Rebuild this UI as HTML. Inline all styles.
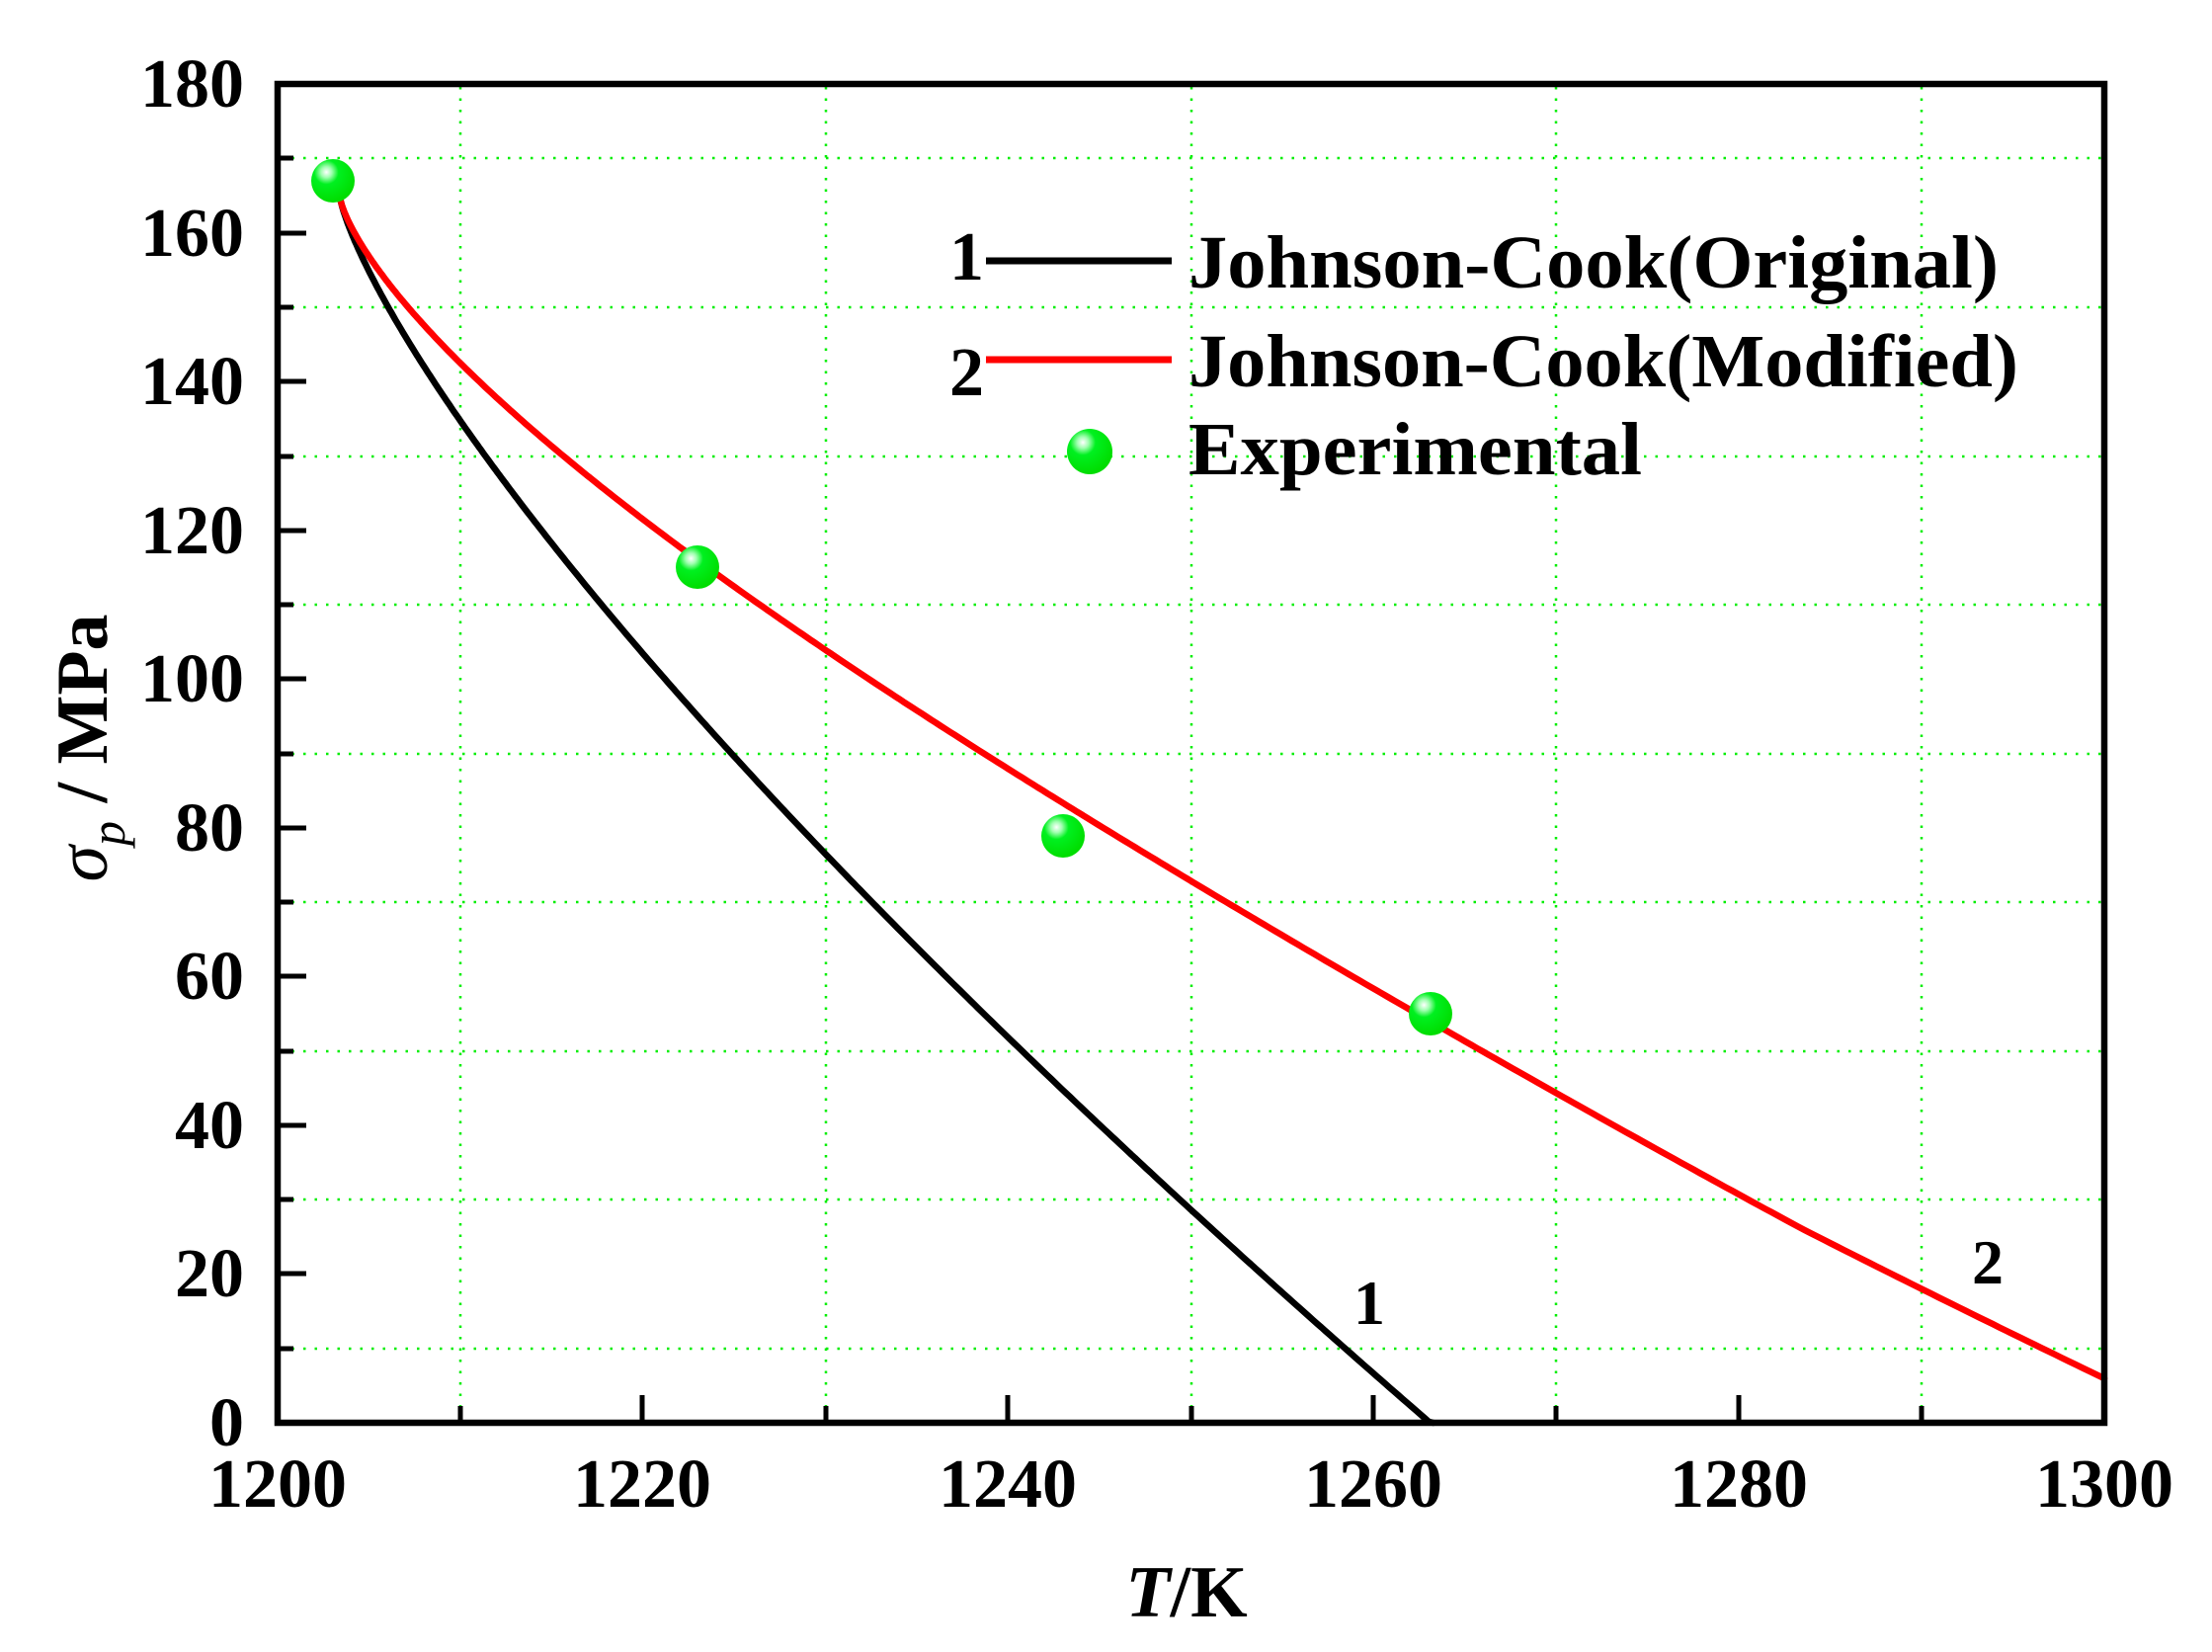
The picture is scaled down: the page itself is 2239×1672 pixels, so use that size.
<!DOCTYPE html>
<html><head><meta charset="utf-8"><style>
html,body{margin:0;padding:0;background:#fff}
svg{display:block}
text{font-family:"Liberation Serif",serif;font-weight:bold;fill:#000}
</style></head><body>
<svg width="2239" height="1672" viewBox="0 0 2239 1672" xmlns="http://www.w3.org/2000/svg">
<defs>
<radialGradient id="g" cx="0.35" cy="0.3" r="0.7">
<stop offset="0" stop-color="#ffffff"/>
<stop offset="0.18" stop-color="#a0ffb0"/>
<stop offset="0.4" stop-color="#00f020"/>
<stop offset="1" stop-color="#00dd00"/>
</radialGradient>
</defs>
<g stroke="#00ee00" stroke-width="2.5" stroke-dasharray="2.5,9" fill="none">
<line x1="466" y1="88" x2="466" y2="1437"/>
<line x1="836" y1="88" x2="836" y2="1437"/>
<line x1="1206" y1="88" x2="1206" y2="1437"/>
<line x1="1575" y1="88" x2="1575" y2="1437"/>
<line x1="1945" y1="88" x2="1945" y2="1437"/>
<line x1="284" y1="1365" x2="2127" y2="1365"/>
<line x1="284" y1="1214" x2="2127" y2="1214"/>
<line x1="284" y1="1064" x2="2127" y2="1064"/>
<line x1="284" y1="913" x2="2127" y2="913"/>
<line x1="284" y1="763" x2="2127" y2="763"/>
<line x1="284" y1="612" x2="2127" y2="612"/>
<line x1="284" y1="462" x2="2127" y2="462"/>
<line x1="284" y1="311" x2="2127" y2="311"/>
<line x1="284" y1="160" x2="2127" y2="160"/>
</g>
<g stroke="#000" stroke-width="5">
<line x1="650" y1="1440" x2="650" y2="1412"/>
<line x1="1020" y1="1440" x2="1020" y2="1412"/>
<line x1="1390" y1="1440" x2="1390" y2="1412"/>
<line x1="1760" y1="1440" x2="1760" y2="1412"/>
<line x1="466" y1="1440" x2="466" y2="1423"/>
<line x1="836" y1="1440" x2="836" y2="1423"/>
<line x1="1206" y1="1440" x2="1206" y2="1423"/>
<line x1="1575" y1="1440" x2="1575" y2="1423"/>
<line x1="1945" y1="1440" x2="1945" y2="1423"/>
<line x1="281" y1="1289" x2="310" y2="1289"/>
<line x1="281" y1="1139" x2="310" y2="1139"/>
<line x1="281" y1="988" x2="310" y2="988"/>
<line x1="281" y1="838" x2="310" y2="838"/>
<line x1="281" y1="687" x2="310" y2="687"/>
<line x1="281" y1="537" x2="310" y2="537"/>
<line x1="281" y1="386" x2="310" y2="386"/>
<line x1="281" y1="236" x2="310" y2="236"/>
<line x1="281" y1="1365" x2="297" y2="1365"/>
<line x1="281" y1="1214" x2="297" y2="1214"/>
<line x1="281" y1="1064" x2="297" y2="1064"/>
<line x1="281" y1="913" x2="297" y2="913"/>
<line x1="281" y1="763" x2="297" y2="763"/>
<line x1="281" y1="612" x2="297" y2="612"/>
<line x1="281" y1="462" x2="297" y2="462"/>
<line x1="281" y1="311" x2="297" y2="311"/>
<line x1="281" y1="160" x2="297" y2="160"/>
</g>
<g fill="none" stroke-linejoin="round" stroke-linecap="round">
<polyline id="c1" stroke="#000" stroke-width="6.5" points=""/>
<polyline id="c2" stroke="#f00" stroke-width="6.5" points=""/>
</g>
<rect x="281" y="85" width="1849" height="1355" fill="none" stroke="#000" stroke-width="6.5"/>
<g>
<circle cx="337" cy="183" r="22" fill="url(#g)"/>
<circle cx="706" cy="574" r="22" fill="url(#g)"/>
<circle cx="1076" cy="846" r="22" fill="url(#g)"/>
<circle cx="1448" cy="1026" r="22" fill="url(#g)"/>
<circle cx="1103" cy="457" r="23" fill="url(#g)"/>
</g>
<g font-size="70" text-anchor="end">
<text x="247" y="1463">0</text>
<text x="247" y="1312">20</text>
<text x="247" y="1162">40</text>
<text x="247" y="1011">60</text>
<text x="247" y="861">80</text>
<text x="247" y="710">100</text>
<text x="247" y="560">120</text>
<text x="247" y="409">140</text>
<text x="247" y="259">160</text>
<text x="247" y="108">180</text>
</g>
<g font-size="70" text-anchor="middle">
<text x="281" y="1525">1200</text>
<text x="650" y="1525">1220</text>
<text x="1020" y="1525">1240</text>
<text x="1390" y="1525">1260</text>
<text x="1760" y="1525">1280</text>
<text x="2130" y="1525">1300</text>
</g>
<text x="1201" y="1636" font-size="74" text-anchor="middle"><tspan font-style="italic">T</tspan>/K</text>
<g transform="translate(108,757) rotate(-90)">
<text x="0" y="0" font-size="74" text-anchor="middle"><tspan font-style="italic" font-weight="normal">σ</tspan><tspan font-style="italic" font-weight="normal" font-size="50" dy="18">p</tspan><tspan dy="-18"> / MPa</tspan></text>
</g>
<line x1="998" y1="264" x2="1186" y2="264" stroke="#000" stroke-width="7"/>
<line x1="998" y1="364" x2="1186" y2="364" stroke="#f00" stroke-width="7"/>
<text x="961" y="283" font-size="70">1</text>
<text x="961" y="400" font-size="70">2</text>
<text x="1203" y="291" font-size="76" textLength="820" lengthAdjust="spacingAndGlyphs">Johnson-Cook(Original)</text>
<text x="1203" y="391" font-size="76" textLength="840" lengthAdjust="spacingAndGlyphs">Johnson-Cook(Modified)</text>
<text x="1203" y="480" font-size="76" textLength="459" lengthAdjust="spacingAndGlyphs">Experimental</text>
<text x="1386" y="1340" font-size="64" text-anchor="middle">1</text>
<text x="2012" y="1299" font-size="64" text-anchor="middle">2</text>
</svg>
<script>
function X(t){return 281+(t-1200)*18.49}
function Y(s){return 1440-s*7.528}
function gen(A,p,tEnd,bump){var pts=[];for(var i=0;i<=400;i++){var u=Math.pow(i/400,1.6)*(tEnd-1203.4);var s=165-A*Math.pow(u,p);if(bump&&u<80)s+=bump*Math.sin(Math.PI*u/80);if(s<0){s=0;}pts.push(X(1203.4+u).toFixed(1)+","+Y(s).toFixed(1));if(s<=0)break;}return pts.join(" ");}
document.getElementById("c1").setAttribute("points",gen(7.08,0.77,1263.5,0));
document.getElementById("c2").setAttribute("points",gen(5.92,0.72,1300,2));
</script>
</body></html>
